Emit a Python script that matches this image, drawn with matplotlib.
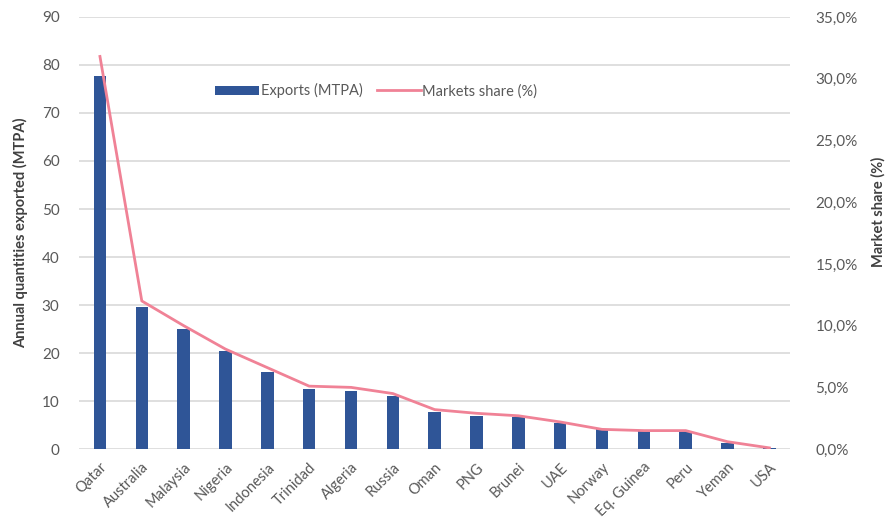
import matplotlib.pyplot as plt
import numpy as np
from matplotlib.ticker import FuncFormatter

plt.rcParams['font.family'] = ['Lato', 'DejaVu Sans']

# data
countries = ['Qatar', 'Australia', 'Malaysia', 'Nigeria', 'Indonesia', 'Trinidad',
             'Algeria', 'Russia', 'Oman', 'PNG', 'Brunei', 'UAE', 'Norway',
             'Eq. Guinea', 'Peru', 'Yeman', 'USA']
exports = [77.7, 29.5, 25.0, 20.5, 16.1, 12.6, 12.1, 11.0, 7.8, 6.9, 6.7, 5.5,
           4.2, 3.9, 3.8, 1.3, 0.2]
share = [31.8, 12.0, 10.0, 8.1, 6.6, 5.1, 5.0, 4.5, 3.2, 2.9, 2.7, 2.2,
         1.6, 1.5, 1.5, 0.6, 0.1]

grey = '#595959'

fig = plt.figure(figsize=(8.88, 5.29), dpi=100)
ax = fig.add_axes([0.089, 0.151, 0.801, 0.817])
ax2 = ax.twinx()

x = np.arange(len(countries))
ax.bar(x, exports, width=0.3, color='#2F5597', label='Exports (MTPA)', zorder=3)
ax2.plot(x, share, color='#F08296', lw=2, label='Markets share (%)', zorder=4)

ax.set_xlim(-0.5, len(countries) - 0.5)
ax.set_ylim(0, 90)
ax.set_yticks(range(0, 91, 10))
ax2.set_ylim(0, 35)
ax2.set_yticks(np.arange(0, 36, 5))
ax2.yaxis.set_major_formatter(FuncFormatter(lambda v, p: f'{v:.1f}%'.replace('.', ',')))

ax.grid(axis='y', color='#d9d9d9', lw=1.2, zorder=0)
ax.set_axisbelow(True)
for a in (ax, ax2):
    for s in a.spines.values():
        s.set_visible(False)
    a.tick_params(length=0, colors=grey, labelsize=11)
ax.tick_params(axis='y', pad=14)
ax2.tick_params(axis='y', pad=18)

ax.set_xticks(x)
ax.set_xticklabels(countries, rotation=45, ha='right', rotation_mode='anchor')
ax.tick_params(axis='x', pad=8, labelsize=10.5)

ax.set_ylabel('Annual quantities exported (MTPA)', fontsize=10.5, fontweight='bold',
              color='#404040', labelpad=10)
ax2.set_ylabel('Market share (%)', fontsize=10.5, fontweight='bold', color='#404040',
               labelpad=14)
ax2.yaxis.set_label_coords(1.114, 0.55)

h1, l1 = ax.get_legend_handles_labels()
h2, l2 = ax2.get_legend_handles_labels()
leg = ax.legend(h1 + h2, l1 + l2, loc='center', bbox_to_anchor=(0.418, 0.829),
                ncol=2, frameon=False, fontsize=10.5, handlelength=3.0,
                handleheight=0.6, columnspacing=1.0, handletextpad=0.1)
for t in leg.get_texts():
    t.set_color(grey)

fig.savefig('out.png', dpi=100)
